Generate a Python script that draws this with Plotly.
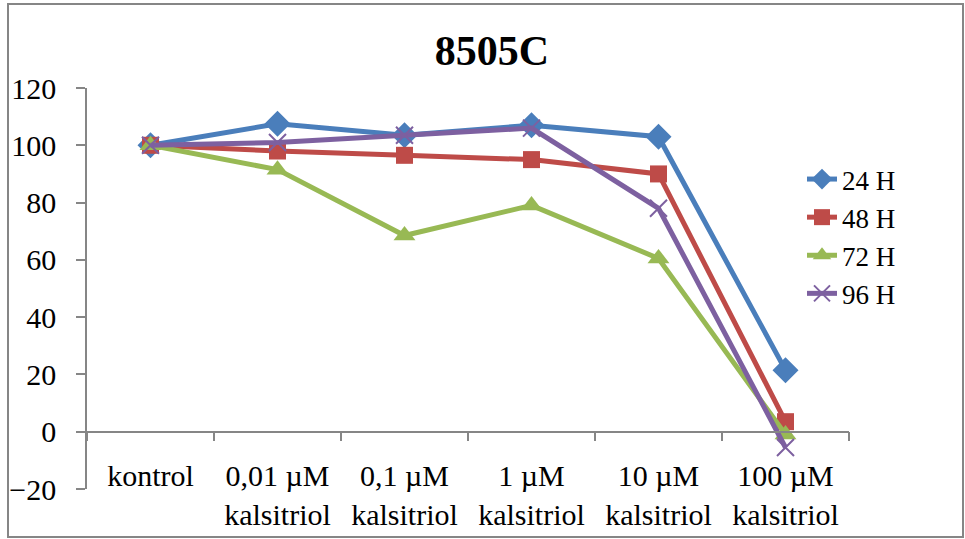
import plotly.graph_objects as go

categories = ["kontrol", "0,01 µM<br>kalsitriol", "0,1 µM<br>kalsitriol",
              "1 µM<br>kalsitriol", "10 µM<br>kalsitriol", "100 µM<br>kalsitriol"]
h24 = [100, 107.5, 103.5, 107, 103, 21.5]
h48 = [100, 98, 96.5, 95, 90, 3.5]
h72 = [100, 91.5, 68.5, 79, 60.5, -1]
h96 = [100, 101, 103.5, 106, 78, -5.5]

series = [
    ("24 H", h24, "#4A7EBB", "diamond", 20, None),
    ("48 H", h48, "#BE4B48", "square", 17, None),
    ("72 H", h72, "#98B954", "triangle-up", 19, None),
    ("96 H", h96, "#7D60A0", "x-thin-open", 17, 2),
]

font_family = "Liberation Serif, Times New Roman, serif"
axis_gray = "#868686"

# plot-area pixel geometry
px_l, px_r, px_t, px_b = 87, 849, 88, 489
W, H = 965, 539
def fx(p):
    return (p - px_l) / (px_r - px_l)
def fy(p):
    return (px_b - p) / (px_b - px_t)

fig = go.Figure()
for name, vals, col, sym, size, lw in series:
    marker = dict(symbol=sym, size=size, color=col)
    if lw:
        marker["line"] = dict(color=col, width=lw)
    fig.add_trace(go.Scatter(
        x=categories, y=vals, name=name, mode="lines+markers",
        line=dict(color=col, width=5), marker=marker,
    ))

fig.update_layout(
    width=W, height=H,
    margin=dict(l=px_l, r=W - px_r, t=px_t, b=H - px_b, autoexpand=False),
    paper_bgcolor="white", plot_bgcolor="white",
    font=dict(family=font_family, size=30, color="black"),
    title=dict(text="<b>8505C</b>", x=492 / W, xanchor="center", y=1 - 50 / H,
               yanchor="middle", font=dict(size=42, family=font_family)),
    showlegend=True,
    legend=dict(x=fx(802), xanchor="left", y=fy(155), yanchor="top",
                font=dict(size=27), bgcolor="rgba(0,0,0,0)", tracegroupgap=0,
                itemwidth=30),
    xaxis=dict(type="category", range=[-0.5, 5.5], anchor="free", position=20 / 140,
               showline=True, linecolor=axis_gray, linewidth=1.5,
               ticks="outside", ticklen=9, tickcolor=axis_gray, tickwidth=1.5,
               tickson="boundaries", showgrid=False, zeroline=False,
               ticklabelstandoff=18),
    yaxis=dict(range=[-20, 120], dtick=20, showline=True, linecolor=axis_gray,
               linewidth=1.5, ticks="outside", ticklen=9, tickcolor=axis_gray,
               tickwidth=1.5, showgrid=False, zeroline=False,
               ticklabelstandoff=14),
    shapes=[dict(type="rect", xref="paper", yref="paper",
                 x0=fx(8), x1=fx(963), y0=fy(537), y1=fy(4),
                 line=dict(color=axis_gray, width=2), layer="below")],
)
fig.write_html("out.html")
